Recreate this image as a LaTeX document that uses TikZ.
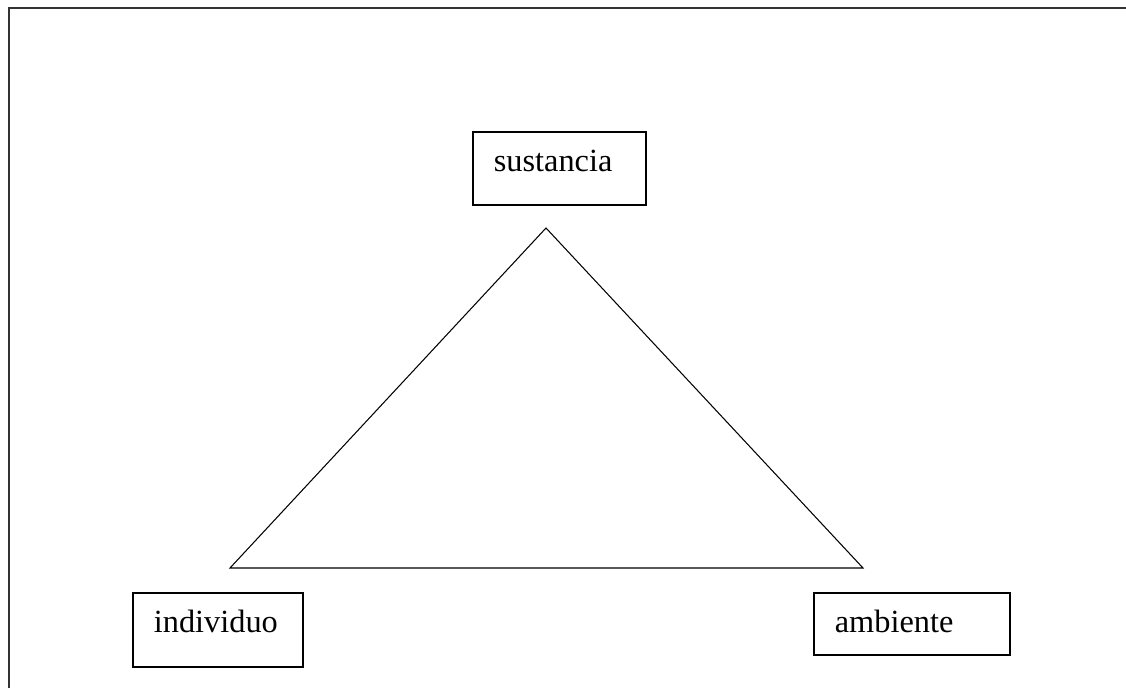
\documentclass[tikz,border=0pt]{standalone}
\usepackage{fontspec}
\setmainfont{Liberation Serif}

\begin{document}
\begin{tikzpicture}[box/.style 2 args = {draw, line width = 1pt, anchor = north west, inner xsep = 0.42 cm, inner ysep = 0, align = left, text width = #1 cm, text height = 0.8 cm, text depth = #2 cm, font = \fontsize{18.4}{22}\selectfont}]

	\useasboundingbox (0, 0) rectangle (22.52, 13.76);

	% Frame

	\draw [line width = 1pt, black!80] (0.18, 0) -- (0.18, 13.6) -- (22.52, 13.6);

	% Boxes

	\node [box = {2.62}{0.66}] (sustancia) at (9.44, 11.14) {sustancia};
	\node [box = {2.56}{0.68}] (individuo) at (2.64, 1.92) {individuo};
	\node [box = {3.08}{0.44}] (ambiente) at (16.26, 1.92) {ambiente};

	% Triangle

	\coordinate (top) at (10.92, 9.2);
	\coordinate (left) at (4.6, 2.4);
	\coordinate (right) at (17.26, 2.4);

	\draw [line width = 0.6pt] (top) -- (left) -- (right) -- cycle;

\end{tikzpicture}
\end{document}
